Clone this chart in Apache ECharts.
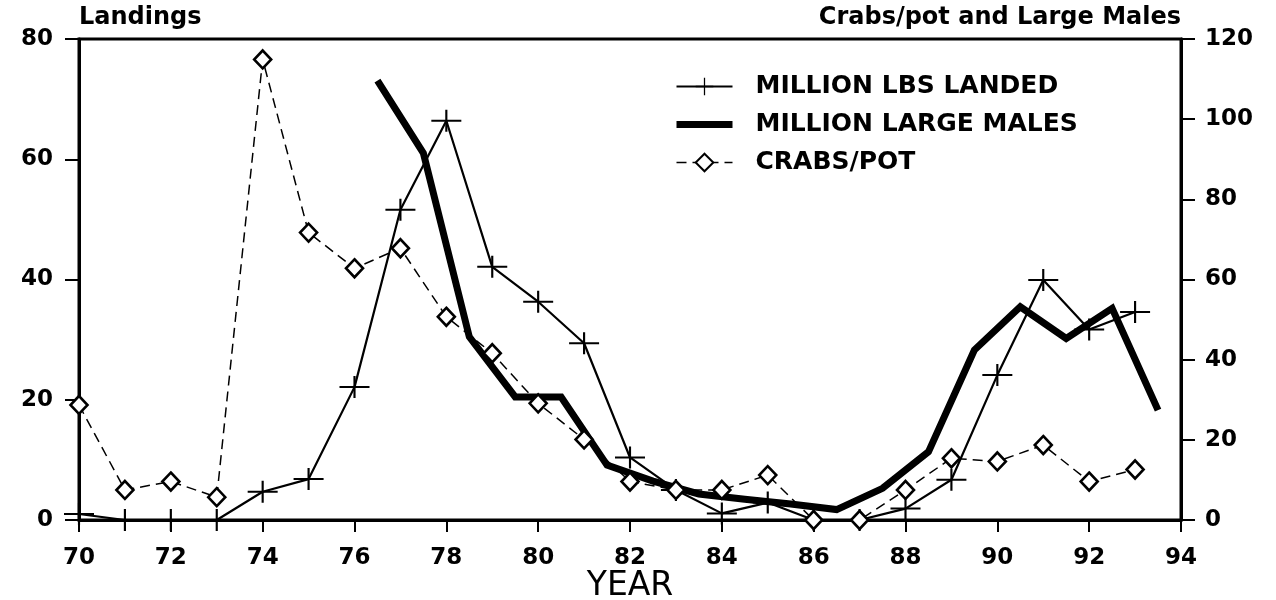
<!DOCTYPE html>
<html>
<head>
<meta charset="utf-8">
<script src="https://cdn.jsdelivr.net/npm/echarts@6/dist/echarts.min.js"></script>
<style>
  html, body { margin: 0; padding: 0; background: #fff; }
  #chart { width: 1276px; height: 600px; }
</style>
</head>
<body>
<div id="chart"></div>
<script>
// landings (left axis), one value per year
const landingYears = [70, 71, 72, 73, 74, 75, 76, 77, 78, 79, 80, 81, 82, 83, 84, 85, 86, 87, 88, 89, 90, 91, 92, 93]
const landings = [1, 0, 0, 0, 4.7, 6.8, 22.1, 51.6, 66.4, 42.1, 36.3, 29.4, 10.4, 5, 1.1, 2.9, 0, 0, 1.9, 6.7, 24.1, 39.9, 31.7, 34.6]

// large males (right axis), plotted mid-season
const maleYears = [76.5, 77.5, 78.5, 79.5, 80.5, 81.5, 82.5, 83.5, 84.5, 85.5, 86.5, 87.5, 88.5, 89.5, 90.5, 91.5, 92.5, 93.5]
const largeMales = [109.6, 91.5, 45.7, 30.7, 30.7, 13.7, 9.7, 6.5, 5.2, 4.0, 2.6, 7.9, 17.0, 42.4, 53.2, 45.3, 52.8, 27.4]

// crabs per pot (right axis)
const potYears = landingYears
const crabsPerPot = [28.7, 7.5, 9.6, 5.7, 114.9, 71.7, 62.8, 67.8, 50.7, 41.6, 29.1, 20.1, 9.6, 7.5, 7.5, 11.2, 0, 0, 7.5, 15.4, 14.6, 18.7, 9.6, 12.6]

const FONT = 'DejaVu Sans'
const CROSS = 'path://M-1,-11 L1,-11 L1,-1 L14,-1 L14,1 L1,1 L1,11 L-1,11 L-1,1 L-14,1 L-14,-1 L-1,-1 Z'

const zip = (xs, ys) => xs.map((x, i) => [x, ys[i]])

const chart = echarts.init(document.getElementById('chart'))

const axisLabel = { color: '#000', fontFamily: FONT, fontWeight: 'bold', fontSize: 23 }
const axisLine = { show: true, lineStyle: { color: '#000', width: 3 } }
const tick = (len) => ({ show: true, length: len, lineStyle: { color: '#000', width: 2 } })

chart.setOption({
  backgroundColor: '#fff',
  animation: false,
  grid: {
    left: 79,
    right: 95,
    top: 39,
    bottom: 80,
    show: true,
    borderColor: '#000',
    borderWidth: 3,
    containLabel: false,
    outerBoundsMode: 'none',
  },
  legend: {
    orient: 'vertical',
    left: 673,
    top: 74,
    padding: 0,
    itemWidth: 56,
    itemHeight: 22,
    itemGap: 13,
    textStyle: {
      color: '#000',
      fontFamily: FONT,
      fontWeight: 'bold',
      fontSize: 25,
      lineHeight: 22,
      padding: [0, 0, 0, 18],
    },
    data: [
      { name: 'MILLION LBS LANDED', lineStyle: { width: 2 } },
      { name: 'MILLION LARGE MALES', lineStyle: { width: 7 }, itemStyle: { opacity: 0 } },
      { name: 'CRABS/POT', lineStyle: { width: 1.5 } },
    ],
  },
  xAxis: {
    type: 'value',
    min: 70,
    max: 94,
    interval: 2,
    name: 'YEAR',
    nameLocation: 'middle',
    nameGap: 50,
    nameMoveOverlap: false,
    nameTextStyle: { color: '#000', fontFamily: FONT, fontSize: 33 },
    axisLine,
    axisTick: tick(12),
    axisLabel: { ...axisLabel, margin: 27 },
    splitLine: { show: false },
  },
  yAxis: [
    {
      type: 'value',
      min: 0,
      max: 80,
      interval: 20,
      position: 'left',
      name: 'Landings',
      nameGap: 9,
      nameTextStyle: { color: '#000', fontFamily: FONT, fontWeight: 'bold', fontSize: 24, align: 'left' },
      axisLine,
      axisTick: tick(14),
      axisLabel: { ...axisLabel, margin: 26 },
      splitLine: { show: false },
    },
    {
      type: 'value',
      min: 0,
      max: 120,
      interval: 20,
      position: 'right',
      name: 'Crabs/pot and Large Males',
      nameGap: 9,
      nameTextStyle: { color: '#000', fontFamily: FONT, fontWeight: 'bold', fontSize: 24, align: 'right' },
      axisLine,
      axisTick: tick(14),
      axisLabel: { ...axisLabel, margin: 24 },
      splitLine: { show: false },
    },
  ],
  series: [
    {
      name: 'MILLION LBS LANDED',
      type: 'line',
      yAxisIndex: 0,
      data: zip(landingYears, landings),
      symbol: CROSS,
      symbolSize: [30, 22],
      itemStyle: { color: '#000' },
      lineStyle: { color: '#000', width: 2.2 },
      z: 3,
    },
    {
      name: 'MILLION LARGE MALES',
      type: 'line',
      yAxisIndex: 1,
      data: zip(maleYears, largeMales),
      symbol: 'none',
      itemStyle: { color: '#000' },
      lineStyle: { color: '#000', width: 7, join: 'miter' },
      z: 2,
    },
    {
      name: 'CRABS/POT',
      type: 'line',
      yAxisIndex: 1,
      data: zip(potYears, crabsPerPot),
      symbol: 'diamond',
      symbolSize: [17, 18],
      showAllSymbol: true,
      itemStyle: { color: '#fff', borderColor: '#000', borderWidth: 2.6 },
      lineStyle: { color: '#000', width: 1.5, type: [10, 6] },
      z: 4,
    },
  ],
})
</script>
</body>
</html>
